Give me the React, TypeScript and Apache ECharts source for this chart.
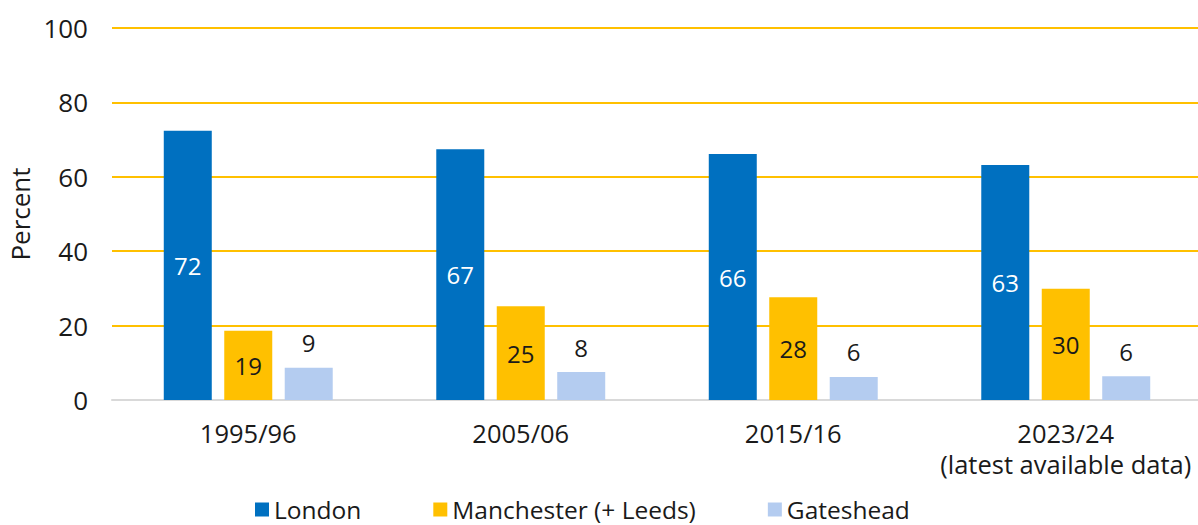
import React, { useEffect, useRef } from "react";
import * as echarts from "echarts";

const categories = ["1995/96", "2005/06", "2015/16", "2023/24\n(latest available data)"];
const london = [72.4, 67.4, 66.1, 63.2];
const manchester = [18.6, 25.2, 27.6, 29.9];
const gateshead = [8.7, 7.5, 6.2, 6.4];
const yTicks = { min: 0, max: 100, interval: 20 };

const FONT = "Open Sans";
const TEXT = "#1a1a1a";
const FS = 26;
const LFS = 24;

export default function App() {
  const ref = useRef<HTMLDivElement>(null);
  useEffect(() => {
    const chart = echarts.init(ref.current!, null, { renderer: "svg" });
    const fmt = (p: any) => String(Math.round(p.value));
    chart.setOption({
      animation: false,
      textStyle: { fontFamily: FONT },
      grid: { left: 112, width: 1090, top: 28, bottom: 125, containLabel: false, outerBoundsMode: "none" },
      legend: {
        left: 255,
        top: 497,
        itemWidth: 14,
        itemHeight: 14,
        itemGap: 72,
        icon: "rect",
        padding: 0,
        textStyle: { fontFamily: FONT, fontSize: 24.5, lineHeight: 24, color: TEXT },
        data: ["London", "Manchester (+ Leeds)", "Gateshead"],
      },
      xAxis: {
        type: "category",
        data: categories,
        axisLine: { lineStyle: { color: "#d9d9d9", width: 2 } },
        axisTick: { show: false },
        axisLabel: { interval: 0, fontFamily: FONT, fontSize: 25.5, color: TEXT, lineHeight: 31, margin: 17 },
      },
      yAxis: {
        type: "value",
        min: yTicks.min,
        max: yTicks.max,
        interval: yTicks.interval,
        name: "Percent",
        nameLocation: "middle",
        nameRotate: 90,
        nameGap: 77,
        nameTextStyle: { fontFamily: FONT, fontSize: FS, color: TEXT },
        axisLabel: { fontFamily: FONT, fontSize: FS, color: TEXT, margin: 24 },
        splitLine: { lineStyle: { color: "#FFC000", width: 2 } },
        axisLine: { show: false },
        axisTick: { show: false },
      },
      series: [
        {
          name: "London",
          type: "bar",
          data: london,
          barWidth: 48,
          barGap: "26%",
          itemStyle: { color: "#0070C0" },
          label: { show: true, position: "inside", formatter: fmt, color: "#ffffff", fontSize: LFS, fontFamily: FONT },
        },
        {
          name: "Manchester (+ Leeds)",
          type: "bar",
          data: manchester,
          barWidth: 48,
          barGap: "26%",
          itemStyle: { color: "#FFC000" },
          label: { show: true, position: "inside", formatter: fmt, color: TEXT, fontSize: LFS, fontFamily: FONT },
        },
        {
          name: "Gateshead",
          type: "bar",
          data: gateshead,
          barWidth: 48,
          barGap: "26%",
          itemStyle: { color: "#B4CCF0" },
          label: { show: true, position: "top", distance: 13, formatter: fmt, color: TEXT, fontSize: LFS, fontFamily: FONT },
        },
      ],
    });
    return () => chart.dispose();
  }, []);
  return (
    <div
      ref={ref}
      style={{ position: "fixed", left: 0, top: 0, width: 1198, height: 525, background: "#fff" }}
    />
  );
}
